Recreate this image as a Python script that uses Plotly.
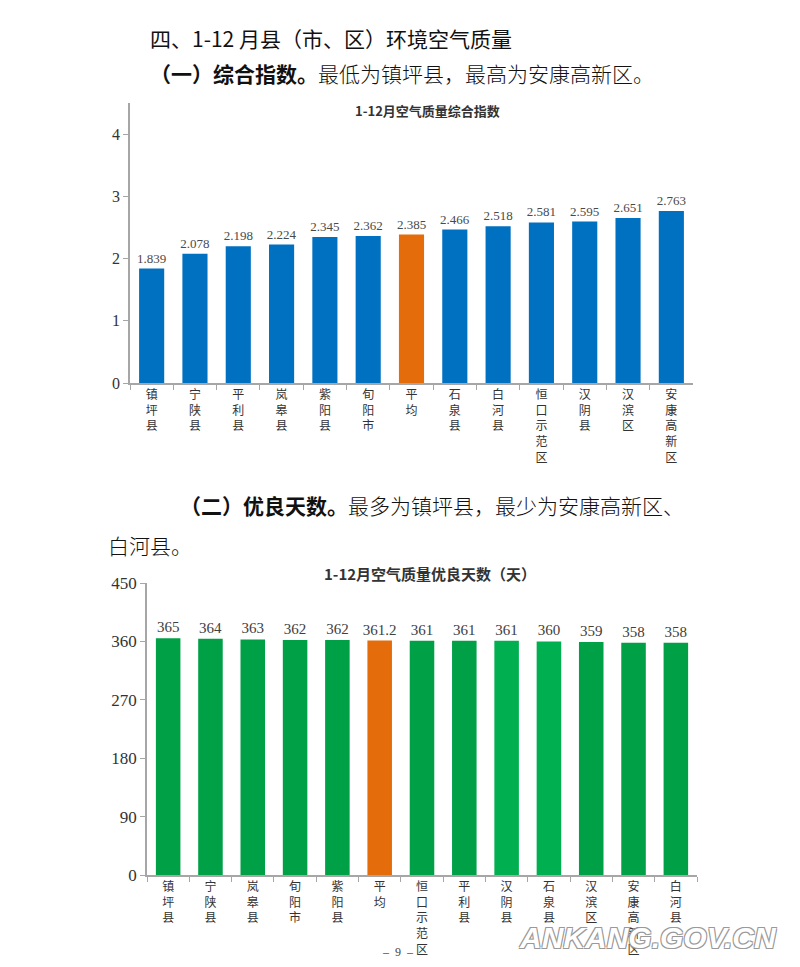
import plotly.graph_objects as go

# page is 800x967; browser body keeps an 8px margin round the figure
W, H = 800, 967
PAD = 8

# 综合指数
cats1 = ["镇坪县", "宁陕县", "平利县", "岚皋县", "紫阳县", "旬阳市", "平均",
         "石泉县", "白河县", "恒口示范区", "汉阴县", "汉滨区", "安康高新区"]
vals1 = [1.839, 2.078, 2.198, 2.224, 2.345, 2.362, 2.385,
         2.466, 2.518, 2.581, 2.595, 2.651, 2.763]

# 优良天数
cats2 = ["镇坪县", "宁陕县", "岚皋县", "旬阳市", "紫阳县", "平均", "恒口示范区",
         "平利县", "汉阴县", "石泉县", "汉滨区", "安康高新区", "白河县"]
vals2 = [365, 364, 363, 362, 362, 361.2, 361, 361, 361, 360, 359, 358, 358]

BLUE, ORANGE = "#0070C0", "#E46C0A"
GREEN, GREEN_LT = "#00A046", "#00B050"
SERIF = "Liberation Serif, DejaVu Serif, serif"
CJK = "Noto Sans CJK SC"

FW, FH = W - 2 * PAD, H - 2 * PAD


def px_x(x):
    return (x - PAD) / FW


def px_y(y):
    return 1 - (y - PAD) / FH


def stack(name):
    # vertical labels, one character per line
    return "<br>".join(name)


colors1 = [ORANGE if c == "平均" else BLUE for c in cats1]
colors2 = [ORANGE if c == "平均" else (GREEN_LT if c in ("汉阴县", "石泉县") else GREEN)
           for c in cats2]

fig = go.Figure()
fig.add_trace(go.Bar(
    x=cats1, y=vals1, marker=dict(color=colors1, line=dict(width=0)),
    text=[f"{v:.3f}" for v in vals1], textposition="outside", cliponaxis=False,
    constraintext="none", textfont=dict(family=SERIF, size=13, color="#4a4a4a"),
    xaxis="x", yaxis="y", showlegend=False))
fig.add_trace(go.Bar(
    x=cats2, y=vals2, marker=dict(color=colors2, line=dict(width=0)),
    text=[f"{v:g}" for v in vals2], textposition="outside", cliponaxis=False,
    constraintext="none", textfont=dict(family=SERIF, size=15, color="#404040"),
    xaxis="x2", yaxis="y2", showlegend=False))

axis_common = dict(showline=True, linecolor="#A6A6A6", linewidth=1.5,
                   ticks="outside", tickcolor="#A6A6A6", ticklen=5,
                   showgrid=False, zeroline=False, fixedrange=True,
                   automargin=False)

fig.update_layout(
    width=FW, height=FH, margin=dict(l=0, r=0, t=0, b=0, autoexpand=False),
    paper_bgcolor="white", plot_bgcolor="rgba(0,0,0,0)",
    bargap=0.42,
    xaxis=dict(domain=[px_x(130), px_x(693)], anchor="y", type="category",
               tickson="boundaries", tickvals=cats1,
               ticktext=[stack(c) for c in cats1],
               tickfont=dict(family=CJK, size=12, color="#333"), **axis_common),
    yaxis=dict(domain=[px_y(383), px_y(103)], anchor="x", range=[0, 4.5],
               dtick=1, tickfont=dict(family=SERIF, size=16, color="#333"),
               **axis_common),
    xaxis2=dict(domain=[px_x(147), px_x(697)], anchor="y2", type="category",
                tickson="boundaries", tickvals=cats2,
                ticktext=[stack(c) for c in cats2],
                tickfont=dict(family=CJK, size=12, color="#333"), **axis_common),
    yaxis2=dict(domain=[px_y(875), px_y(583)], anchor="x2", range=[0, 450],
                dtick=90, tickfont=dict(family=SERIF, size=17, color="#333"),
                **axis_common),
)


def note(text, x, y, size, xanchor="left", **font):
    fig.add_annotation(text=text, x=px_x(x), y=px_y(y), xref="paper", yref="paper",
                       xanchor=xanchor, yanchor="middle", showarrow=False,
                       font=dict(family=font.pop("family", CJK), size=size,
                                 color=font.pop("color", "#111"), **font))


note("四、1-12 月县（市、区）环境空气质量", 148, 38, 21)
note("<b>（一）综合指数。</b>最低为镇坪县，最高为安康高新区。", 148, 73, 21, weight=300)
note("<b>（二）优良天数。</b>最多为镇坪县，最少为安康高新区、", 178, 505, 21, weight=300)
note("白河县。", 106, 545, 21, weight=300)

note("<b>1-12月空气质量综合指数</b>", 427, 110, 13, xanchor="center", color="#333")
note("<b>1-12月空气质量优良天数（天）</b>", 430, 573, 15, xanchor="center", color="#333")

note("–  9  –", 398, 952, 12, xanchor="center", color="#444", family=SERIF)
note("ANKANG.GOV.CN", 648, 937, 30, xanchor="center", color="white",
     family="Liberation Sans", style="italic", weight="bold",
     shadow="-1px -1px 0 #999, 1px -1px 0 #999, -1px 1px 0 #999, 1px 1px 0 #999")

fig.write_html("out.html")
